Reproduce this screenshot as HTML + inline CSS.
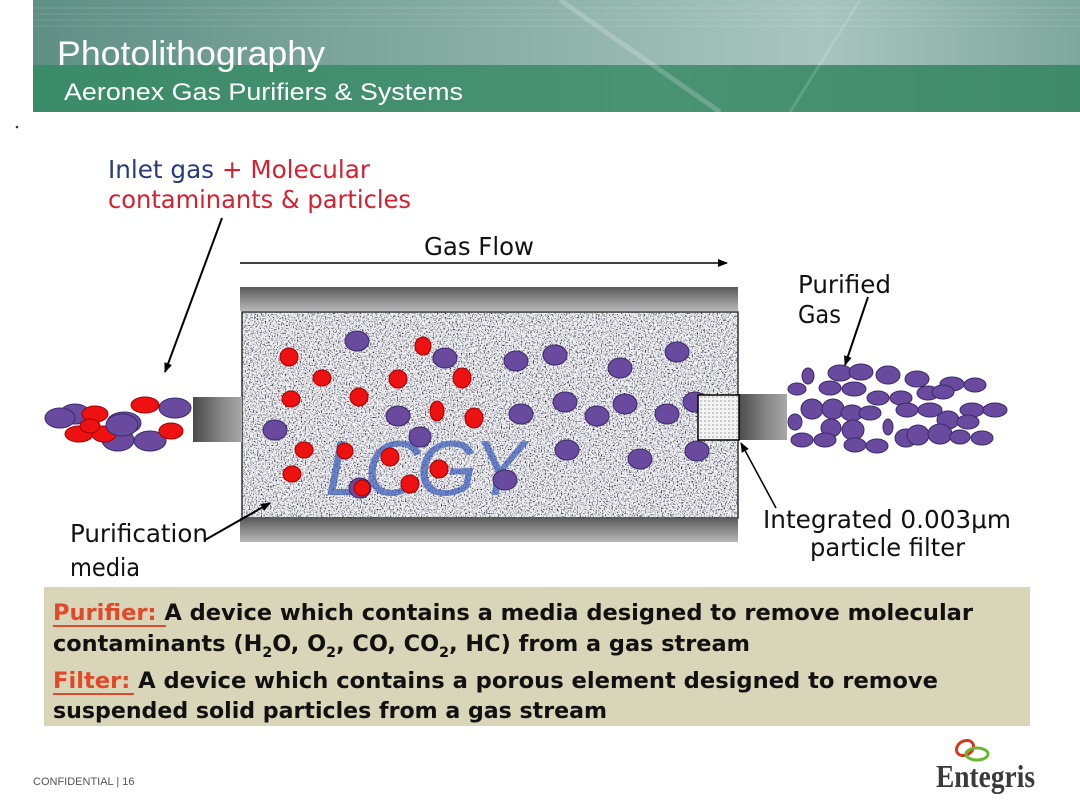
<!DOCTYPE html>
<html><head><meta charset="utf-8"><style>
html,body{margin:0;padding:0;background:#fff;}
svg{display:block;}
</style></head><body>
<svg width="1080" height="810" viewBox="0 0 1080 810" xmlns="http://www.w3.org/2000/svg">
<defs>
<linearGradient id="hdrTop" x1="0" y1="0" x2="1" y2="0">
<stop offset="0" stop-color="#5f8f84"/><stop offset="0.5" stop-color="#8fb3aa"/><stop offset="0.75" stop-color="#a9c6be"/><stop offset="1" stop-color="#7fa79c"/>
</linearGradient>
<linearGradient id="hdrBot" x1="0" y1="0" x2="1" y2="0">
<stop offset="0" stop-color="#3a8b68"/><stop offset="0.6" stop-color="#4a9274"/><stop offset="1" stop-color="#3f8a6b"/>
</linearGradient>
<linearGradient id="bar" x1="0" y1="0" x2="0" y2="1">
<stop offset="0" stop-color="#5a5a5a"/><stop offset="0.5" stop-color="#8a8a8a"/><stop offset="1" stop-color="#b8b8b8"/>
</linearGradient>
<linearGradient id="pipe" x1="0" y1="0" x2="1" y2="0">
<stop offset="0" stop-color="#4a4a4a"/><stop offset="0.6" stop-color="#888"/><stop offset="1" stop-color="#a8a8a8"/>
</linearGradient>
<filter id="noise" x="0" y="0" width="100%" height="100%">
<feTurbulence type="fractalNoise" baseFrequency="0.75" numOctaves="2" seed="3"/>
<feColorMatrix type="matrix" values="3.2 0 0 0 -0.85  3.2 0 0 0 -0.85  3.2 0 0 0 -0.8  0 0 0 0 1"/>
</filter>
<pattern id="dots" width="4" height="4" patternUnits="userSpaceOnUse">
<rect width="4" height="4" fill="#f4f4f4"/><circle cx="1" cy="1" r="0.6" fill="#666"/>
</pattern>
<marker id="ah" markerWidth="10" markerHeight="8" refX="9" refY="4" orient="auto" markerUnits="userSpaceOnUse">
<path d="M0,0 L10,4 L0,8 Z" fill="#000"/>
</marker>
</defs>

<!-- header -->
<rect x="33" y="0" width="1047" height="66" fill="url(#hdrTop)"/>
<g stroke="#ffffff" stroke-opacity="0.12" stroke-width="1">
<line x1="33" y1="8" x2="1080" y2="8"/><line x1="33" y1="14" x2="1080" y2="14"/><line x1="33" y1="20" x2="1080" y2="20"/><line x1="33" y1="26" x2="1080" y2="26"/>
</g>
<rect x="33" y="65" width="1047" height="47" fill="url(#hdrBot)"/>
<path d="M560 0 L720 112" stroke="#ffffff" stroke-opacity="0.2" stroke-width="5"/>
<path d="M860 0 L790 112" stroke="#ffffff" stroke-opacity="0.15" stroke-width="3"/>
<text x="57" y="65" font-family="Liberation Sans, sans-serif" font-size="34" fill="#ffffff" textLength="268" lengthAdjust="spacingAndGlyphs">Photolithography</text>
<text x="64" y="100" font-family="Liberation Sans, sans-serif" font-size="24" fill="#ffffff" textLength="399" lengthAdjust="spacingAndGlyphs">Aeronex Gas Purifiers &amp; Systems</text>
<circle cx="17" cy="127" r="1.3" fill="#333"/>

<!-- labels -->
<g font-family="DejaVu Sans Condensed, DejaVu Sans, sans-serif" font-size="25" fill="#111">
<text x="108" y="178" fill="#2b3a7a" textLength="262" lengthAdjust="spacingAndGlyphs">Inlet gas <tspan fill="#d42030">+ Molecular</tspan></text>
<text x="108" y="208" fill="#d42030" textLength="303" lengthAdjust="spacingAndGlyphs">contaminants &amp; particles</text>
<text x="424" y="255" textLength="110" lengthAdjust="spacingAndGlyphs">Gas Flow</text>
<text x="798" y="293" textLength="93" lengthAdjust="spacingAndGlyphs">Purified</text>
<text x="798" y="323">Gas</text>
<text x="763" y="528" textLength="248" lengthAdjust="spacingAndGlyphs">Integrated 0.003μm</text>
<text x="810" y="556" textLength="155" lengthAdjust="spacingAndGlyphs">particle filter</text>
<text x="70" y="542" textLength="138" lengthAdjust="spacingAndGlyphs">Purification</text>
<text x="70" y="576">media</text>
</g>
<line x1="222" y1="218" x2="165" y2="372" stroke="#000" stroke-width="2" marker-end="url(#ah)"/>
<line x1="240" y1="263" x2="727" y2="263" stroke="#000" stroke-width="1.5" marker-end="url(#ah)"/>

<!-- purifier body -->
<rect x="240" y="287" width="498" height="24" fill="url(#bar)"/>
<rect x="242" y="312" width="496" height="206" filter="url(#noise)"/>
<rect x="242" y="312" width="496" height="206" fill="none" stroke="#333" stroke-width="1.5"/>
<rect x="240" y="518" width="498" height="24" fill="url(#bar)"/>
<rect x="193" y="397" width="49" height="45" fill="url(#pipe)"/>
<rect x="738" y="394" width="49" height="46" fill="url(#pipe)"/>

<text x="325" y="495" font-family="Liberation Sans, sans-serif" font-style="italic" font-size="78" fill="#3558b8" fill-opacity="0.7" textLength="200">LCGY</text>

<g fill="#6a4a9e" stroke="#3a2a6a" stroke-width="1">
<ellipse cx="357" cy="341" rx="12" ry="10"/><ellipse cx="445" cy="358" rx="12" ry="10"/><ellipse cx="516" cy="361" rx="12" ry="10"/>
<ellipse cx="555" cy="355" rx="12" ry="10"/><ellipse cx="620" cy="368" rx="12" ry="10"/><ellipse cx="677" cy="352" rx="12" ry="10"/>
<ellipse cx="275" cy="430" rx="12" ry="10"/><ellipse cx="398" cy="416" rx="12" ry="10"/><ellipse cx="420" cy="437" rx="11" ry="10"/>
<ellipse cx="521" cy="414" rx="12" ry="10"/><ellipse cx="565" cy="402" rx="12" ry="10"/><ellipse cx="597" cy="416" rx="12" ry="10"/>
<ellipse cx="625" cy="404" rx="12" ry="10"/><ellipse cx="667" cy="414" rx="12" ry="10"/><ellipse cx="695" cy="402" rx="12" ry="10"/>
<ellipse cx="567" cy="450" rx="12" ry="10"/><ellipse cx="640" cy="459" rx="12" ry="10"/><ellipse cx="697" cy="451" rx="12" ry="10"/>
<ellipse cx="505" cy="480" rx="12" ry="10"/><ellipse cx="360" cy="488" rx="11" ry="10"/>
</g>
<g fill="#ee1111" stroke="#a00000" stroke-width="1">
<ellipse cx="289" cy="357" rx="9" ry="9"/><ellipse cx="322" cy="378" rx="9" ry="8"/><ellipse cx="398" cy="379" rx="9" ry="9"/>
<ellipse cx="423" cy="346" rx="8" ry="9"/><ellipse cx="462" cy="378" rx="9" ry="10"/><ellipse cx="359" cy="397" rx="9" ry="9"/>
<ellipse cx="291" cy="399" rx="9" ry="8"/><ellipse cx="437" cy="411" rx="7" ry="10"/><ellipse cx="474" cy="418" rx="9" ry="10"/>
<ellipse cx="304" cy="450" rx="9" ry="8"/><ellipse cx="345" cy="451" rx="8" ry="8"/><ellipse cx="390" cy="457" rx="9" ry="9"/>
<ellipse cx="439" cy="469" rx="9" ry="9"/><ellipse cx="292" cy="474" rx="9" ry="8"/><ellipse cx="410" cy="484" rx="9" ry="9"/>
<ellipse cx="362" cy="488" rx="8" ry="8"/>
</g>

<!-- filter -->
<rect x="698" y="395" width="41" height="45" fill="url(#dots)" stroke="#000" stroke-width="1.5"/>

<!-- left cluster -->
<g stroke-width="1">
<g fill="#6a4a9e" stroke="#3a2a6a">
<ellipse cx="75" cy="414" rx="15" ry="10"/><ellipse cx="60" cy="418" rx="15" ry="10"/>
<ellipse cx="124" cy="423" rx="17" ry="11"/><ellipse cx="118" cy="440" rx="16" ry="11"/>
<ellipse cx="150" cy="441" rx="16" ry="10"/><ellipse cx="175" cy="408" rx="16" ry="10"/>
</g>
<g fill="#ee1111" stroke="#a00000">
<ellipse cx="95" cy="414" rx="13" ry="8"/><ellipse cx="79" cy="434" rx="14" ry="8"/>
<ellipse cx="104" cy="434" rx="12" ry="8"/><ellipse cx="90" cy="426" rx="10" ry="7"/>
<ellipse cx="145" cy="405" rx="14" ry="8"/><ellipse cx="171" cy="431" rx="12" ry="8"/>
</g>
<ellipse cx="122" cy="425" rx="16" ry="11" fill="#6a4a9e" stroke="#3a2a6a"/>
</g>

<!-- right cluster -->
<g fill="#6a4a9e" stroke="#3a2a6a" stroke-width="1">
<ellipse cx="808" cy="376" rx="6" ry="8"/><ellipse cx="797" cy="389" rx="9" ry="6"/>
<ellipse cx="840" cy="373" rx="12" ry="8"/><ellipse cx="861" cy="372" rx="12" ry="8"/><ellipse cx="888" cy="375" rx="12" ry="9"/>
<ellipse cx="917" cy="379" rx="12" ry="8"/><ellipse cx="952" cy="384" rx="12" ry="7"/><ellipse cx="975" cy="385" rx="11" ry="7"/>
<ellipse cx="830" cy="388" rx="11" ry="7"/><ellipse cx="854" cy="389" rx="12" ry="7"/><ellipse cx="878" cy="398" rx="11" ry="7"/>
<ellipse cx="901" cy="398" rx="11" ry="7"/><ellipse cx="928" cy="393" rx="11" ry="7"/><ellipse cx="943" cy="392" rx="11" ry="7"/>
<ellipse cx="812" cy="409" rx="11" ry="10"/><ellipse cx="833" cy="409" rx="11" ry="10"/><ellipse cx="852" cy="413" rx="11" ry="8"/>
<ellipse cx="870" cy="413" rx="11" ry="7"/><ellipse cx="907" cy="410" rx="11" ry="7"/><ellipse cx="930" cy="410" rx="12" ry="7"/>
<ellipse cx="972" cy="410" rx="12" ry="7"/><ellipse cx="995" cy="410" rx="12" ry="7"/>
<ellipse cx="831" cy="428" rx="10" ry="9"/><ellipse cx="853" cy="430" rx="11" ry="10"/><ellipse cx="888" cy="427" rx="5" ry="8"/>
<ellipse cx="948" cy="420" rx="11" ry="9"/><ellipse cx="968" cy="422" rx="11" ry="7"/><ellipse cx="795" cy="422" rx="7" ry="8"/>
<ellipse cx="802" cy="440" rx="11" ry="7"/><ellipse cx="825" cy="440" rx="11" ry="7"/><ellipse cx="855" cy="445" rx="11" ry="7"/>
<ellipse cx="877" cy="446" rx="11" ry="7"/><ellipse cx="906" cy="438" rx="11" ry="9"/><ellipse cx="918" cy="435" rx="11" ry="10"/>
<ellipse cx="940" cy="434" rx="12" ry="10"/><ellipse cx="960" cy="437" rx="10" ry="7"/><ellipse cx="982" cy="438" rx="11" ry="7"/>
</g>

<line x1="868" y1="297" x2="845" y2="365" stroke="#000" stroke-width="2" marker-end="url(#ah)"/>
<line x1="776" y1="508" x2="741" y2="443" stroke="#000" stroke-width="1.5" marker-end="url(#ah)"/>
<line x1="205" y1="540" x2="270" y2="503" stroke="#000" stroke-width="2" marker-end="url(#ah)"/>

<!-- definitions box -->
<rect x="44" y="587" width="986" height="139" fill="#d9d5b9"/>
<g font-family="DejaVu Sans Condensed, DejaVu Sans, sans-serif" font-weight="bold" font-size="22" fill="#111">
<text x="53" y="620" textLength="920" lengthAdjust="spacingAndGlyphs"><tspan fill="#e04a2a">Purifier:</tspan> A device which contains a media designed to remove molecular</text>
<text x="53" y="651" textLength="697" lengthAdjust="spacingAndGlyphs">contaminants (H<tspan font-size="14" dy="6">2</tspan><tspan dy="-6">O, O</tspan><tspan font-size="14" dy="6">2</tspan><tspan dy="-6">, CO, CO</tspan><tspan font-size="14" dy="6">2</tspan><tspan dy="-6">, HC) from a gas stream</tspan></text>
<text x="53" y="688" textLength="885" lengthAdjust="spacingAndGlyphs"><tspan fill="#e04a2a">Filter:</tspan>  A device which contains a porous element designed to remove</text>
<text x="53" y="718" textLength="554" lengthAdjust="spacingAndGlyphs">suspended solid particles from a gas stream</text>
</g>
<line x1="53" y1="626" x2="166" y2="626" stroke="#e04a2a" stroke-width="2"/>
<line x1="53" y1="694" x2="134" y2="694" stroke="#e04a2a" stroke-width="2"/>

<!-- footer -->
<text x="33" y="785" font-family="Liberation Sans, sans-serif" font-size="11" fill="#555">CONFIDENTIAL  |  16</text>
<ellipse cx="965" cy="748" rx="9" ry="7" fill="none" stroke="#d23a1e" stroke-width="3" transform="rotate(-30 965 748)"/>
<ellipse cx="977" cy="754" rx="11" ry="6" fill="none" stroke="#6cb52e" stroke-width="3"/>
<text x="936" y="787" font-family="Liberation Serif, serif" font-size="32" font-weight="bold" fill="#3a3a3a" textLength="99" lengthAdjust="spacingAndGlyphs">Entegris</text>
</svg>
</body></html>
